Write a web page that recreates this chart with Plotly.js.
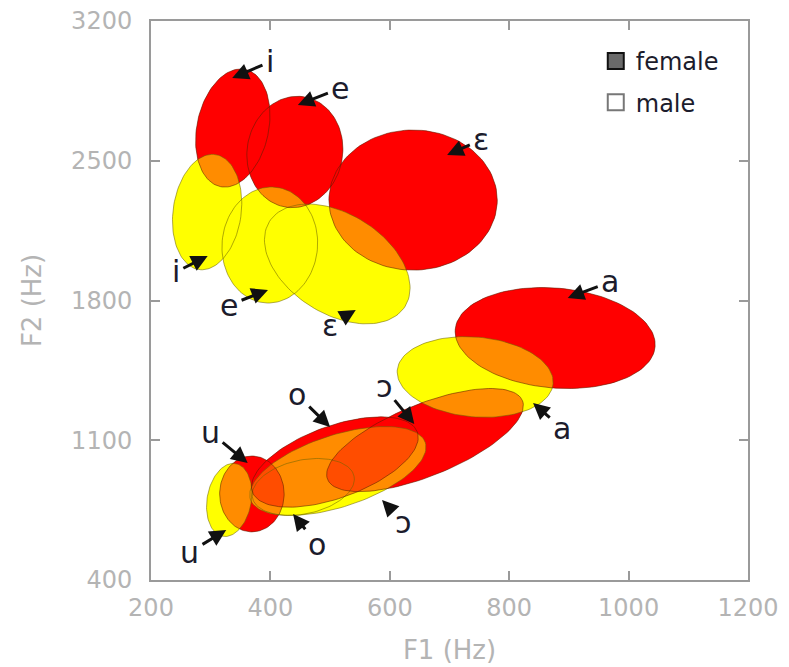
<!DOCTYPE html>
<html>
<head>
<meta charset="utf-8">
<script src="https://cdn.plot.ly/plotly-3.0.1.min.js"></script>
<style>html,body{margin:0;padding:0;background:#fff}#chart{width:789px;height:667px}</style>
</head>
<body>
<div id="chart"></div>
<script>
// ---- data ----
const vowels = ['i', 'e', 'ɛ', 'a', 'ɔ', 'o', 'u'];
// female ellipses: centre (F1, F2 in Hz), semi-axes along F1 / F2 (Hz), tilt (deg)
const femaleF1   = [337, 441, 639, 877, 659, 508, 369];
const femaleF2   = [2664, 2544, 2303, 1612, 1101, 991, 831];
const femaleRF1  = [60, 80, 141, 168, 176, 147, 54];
const femaleRF2  = [300, 280, 351, 250, 180, 180, 190];
const femaleTilt = [-12, -10, 0, -5, 22, 20, 0];
// male ellipses
const maleF1   = [294, 399, 512, 743, 513, 455, 331];
const maleF2   = [2243, 2078, 1983, 1417, 946, 866, 801];
const maleRF1  = [57, 80, 134, 131, 154, 87, 37];
const maleRF2  = [291, 291, 250, 200, 180, 135, 185];
const maleTilt = [-8, -5, -32, -5, 18, 12, -10];
// axes
const f1Ticks = [200, 400, 600, 800, 1000, 1200];
const f2Ticks = [400, 1100, 1800, 2500, 3200];
const seriesNames = ['female', 'male'];

// ---- layout geometry ----
const W = 789, H = 667;
const margin = {l: 151, r: 41, t: 21, b: 87};
const f1Range = [200, 1200], f2Range = [400, 3200];
const kx = (W - margin.l - margin.r) / (f1Range[1] - f1Range[0]);
const ky = (H - margin.t - margin.b) / (f2Range[1] - f2Range[0]);

function ellipse(c1, c2, r1, r2, tiltDeg) {
  const th = tiltDeg * Math.PI / 180, xs = [], ys = [];
  for (let k = 0; k <= 120; k++) {
    const t = 2 * Math.PI * k / 120;
    const lx = r1 * Math.cos(t) * kx, ly = r2 * Math.sin(t) * ky;
    const rx = lx * Math.cos(th) - ly * Math.sin(th);
    const ry = lx * Math.sin(th) + ly * Math.cos(th);
    xs.push(c1 + rx / kx); ys.push(c2 + ry / ky);
  }
  return {x: xs, y: ys};
}

const traces = [];
function addFills(F1, F2, R1, R2, T, fillcolor) {
  for (let i = 0; i < F1.length; i++) {
    const e = ellipse(F1[i], F2[i], R1[i], R2[i], T[i]);
    traces.push({x: e.x, y: e.y, mode: 'lines', fill: 'toself', fillcolor: fillcolor,
      line: {width: 0, color: 'rgba(0,0,0,0)'}, hoverinfo: 'skip', showlegend: false});
  }
}
function addOutlines(F1, F2, R1, R2, T, color) {
  for (let i = 0; i < F1.length; i++) {
    const e = ellipse(F1[i], F2[i], R1[i], R2[i], T[i]);
    traces.push({x: e.x, y: e.y, mode: 'lines', line: {width: 1, color: color},
      hoverinfo: 'skip', showlegend: false});
  }
}
addFills(femaleF1, femaleF2, femaleRF1, femaleRF2, femaleTilt, '#ff0000');
addFills(maleF1, maleF2, maleRF1, maleRF2, maleTilt, '#ffff00');
addFills(femaleF1, femaleF2, femaleRF1, femaleRF2, femaleTilt, 'rgba(255,0,0,0.45)');
addOutlines(maleF1, maleF2, maleRF1, maleRF2, maleTilt, 'rgba(110,100,0,0.55)');
addOutlines(femaleF1, femaleF2, femaleRF1, femaleRF2, femaleTilt, 'rgba(90,30,0,0.55)');

// legend entries
traces.push({x: [null], y: [null], mode: 'markers', name: seriesNames[0], legendgroup: 'f',
  marker: {symbol: 'square', size: 19, color: '#6a6a6a', line: {color: '#111', width: 2}}});
traces.push({x: [null], y: [null], mode: 'markers', name: seriesNames[1], legendgroup: 'm',
  marker: {symbol: 'square', size: 19, color: '#ffffff', line: {color: '#777', width: 2}}});

// label placement: [vowel index, gender, text F1, text F2, tip F1, tip F2]
const labelPlace = [
  [0, 'f', 399, 2995, 336, 2914],
  [1, 'f', 517, 2864, 446, 2779],
  [2, 'f', 753, 2604, 696, 2529],
  [0, 'm', 242, 1943, 295, 2023],
  [1, 'm', 331, 1777, 396, 1853],
  [2, 'm', 500, 1677, 543, 1752],
  [3, 'f', 969, 1893, 898, 1813],
  [3, 'm', 888, 1161, 840, 1287],
  [5, 'f', 445, 1327, 500, 1166],
  [4, 'f', 590, 1367, 641, 1181],
  [6, 'f', 299, 1141, 362, 986],
  [6, 'm', 265, 540, 326, 650],
  [5, 'm', 478, 580, 438, 731],
  [4, 'm', 622, 690, 587, 801]
];
const annotations = labelPlace.map(p => ({
  text: vowels[p[0]], xref: 'x', yref: 'y', axref: 'x', ayref: 'y',
  x: p[4], y: p[5], ax: p[2], ay: p[3],
  showarrow: true, arrowhead: 2, arrowsize: 1.1, arrowwidth: 3, arrowcolor: '#111',
  standoff: 0, startstandoff: 2,
  font: {family: 'DejaVu Sans', size: 30, color: '#1c1c2c'}
}));

const axisCommon = {
  showgrid: false, zeroline: false, showline: true, linecolor: '#9a9a9a', linewidth: 2,
  mirror: 'ticks', ticks: 'inside', ticklen: 9, tickcolor: '#9a9a9a', tickwidth: 2,
  tickfont: {family: 'DejaVu Sans', size: 24, color: '#b4b4b4'}
};
const layout = {
  width: W, height: H, margin: margin,
  paper_bgcolor: '#fff', plot_bgcolor: '#fff',
  xaxis: Object.assign({}, axisCommon, {range: f1Range, tickvals: f1Ticks, ticklabelstandoff: 5,
    title: {text: 'F1 (Hz)', standoff: 20, font: {family: 'DejaVu Sans', size: 26, color: '#b4b4b4'}}}),
  yaxis: Object.assign({}, axisCommon, {range: f2Range, tickvals: f2Ticks, ticklabelstandoff: 12,
    title: {text: 'F2 (Hz)', standoff: 22, font: {family: 'DejaVu Sans', size: 26, color: '#b4b4b4'}}}),
  legend: {x: 0.745, y: 0.968, xanchor: 'left', yanchor: 'top', bgcolor: 'rgba(0,0,0,0)',
    font: {family: 'DejaVu Sans', size: 24, color: '#1c1c2c'}, tracegroupgap: 7, traceorder: 'grouped'},
  annotations: annotations,
  showlegend: true
};
Plotly.newPlot('chart', traces, layout, {staticPlot: true});
</script>
</body>
</html>
